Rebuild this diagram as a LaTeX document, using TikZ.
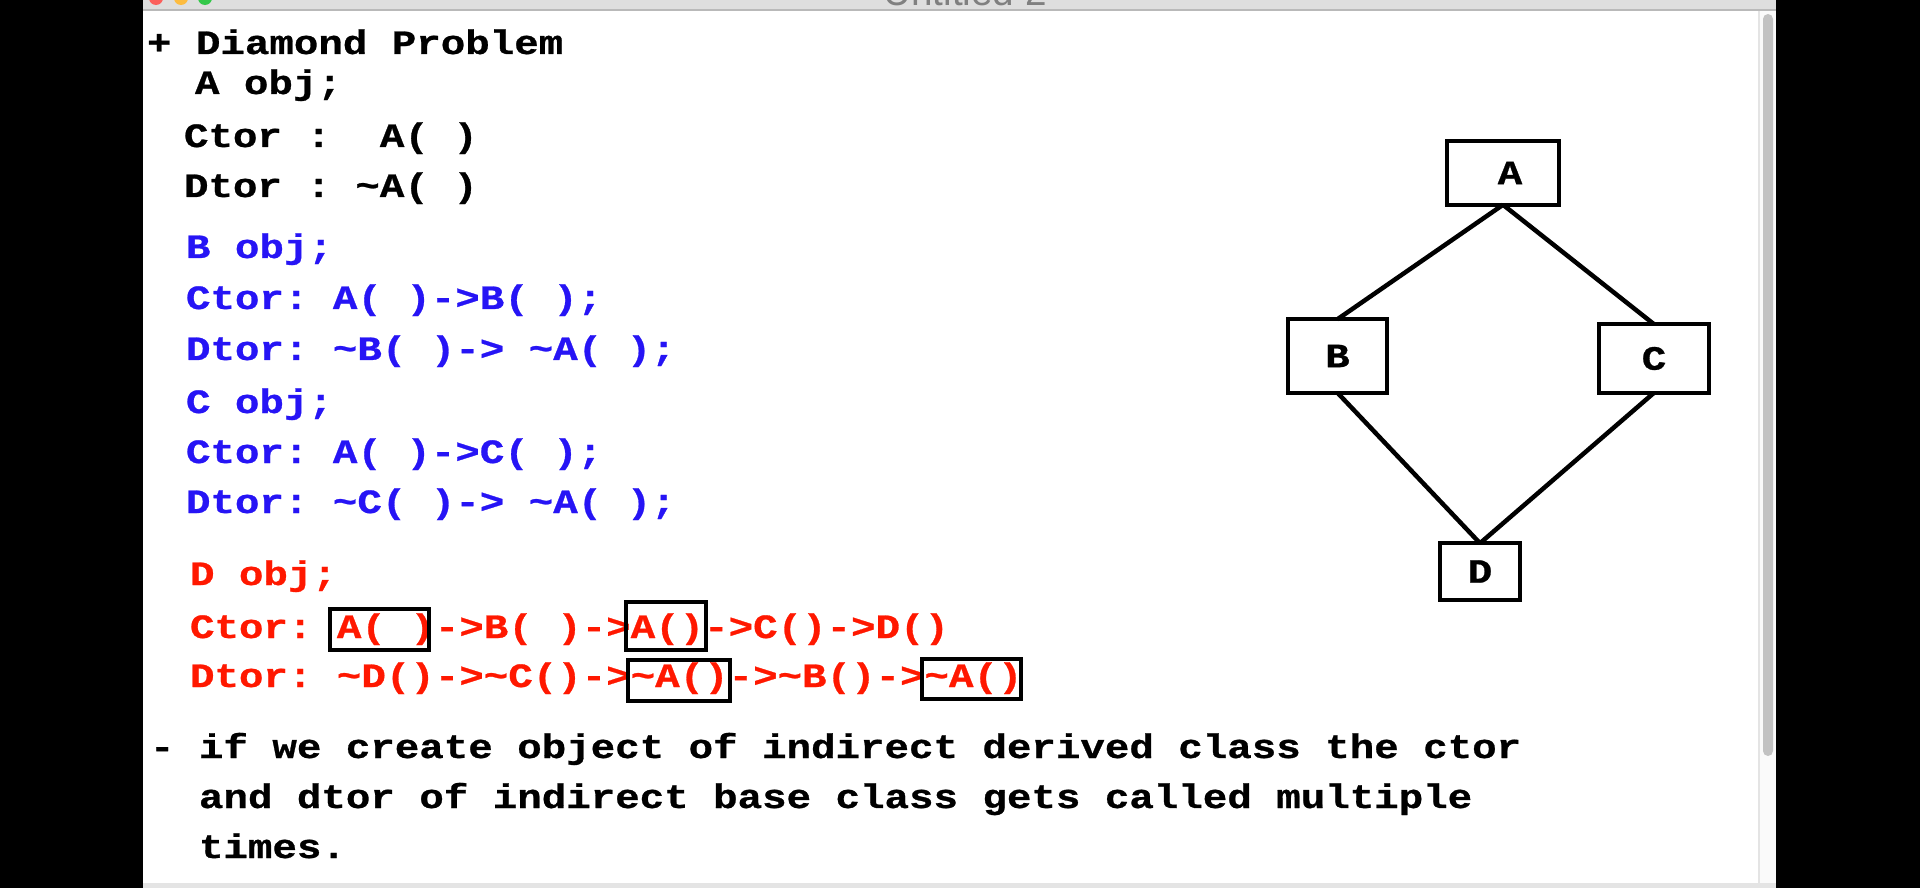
\documentclass[tikz,border=0pt]{standalone}
\usepackage{fontspec}
\newfontfamily\codefam[FakeStretch=1.2,BoldFeatures={FakeBold=0.8}]{Liberation Mono}
\newfontfamily\uisans{Liberation Sans}
\newcommand\codefont{\codefam\bfseries\fontsize{9.67pt}{11pt}\selectfont}
\newcommand\tild{\textasciitilde{}}
\definecolor{cblue}{RGB}{38,20,245}
\definecolor{cred}{RGB}{255,24,0}
\definecolor{barbg}{RGB}{222,222,222}
\definecolor{barline}{RGB}{185,185,185}
\definecolor{thumb}{RGB}{194,194,194}
\definecolor{track}{RGB}{250,250,250}
\definecolor{trackline}{RGB}{228,228,228}
\definecolor{tlred}{RGB}{252,96,92}
\definecolor{tlyellow}{RGB}{253,188,64}
\definecolor{tlgreen}{RGB}{52,200,74}
\begin{document}
\begin{tikzpicture}[x=0.01cm,y=-0.01cm,
  code/.style={anchor=base west,inner sep=0pt,outer sep=0pt,font=\codefont},
  hlbox/.style={draw=black,line width=1.14pt,inner sep=0pt,outer sep=0pt},
  cls/.style={draw=black,line width=1.28pt,inner sep=0pt,outer sep=0pt,font=\codefont},
  conn/.style={draw=black,line width=1.28pt}]
\useasboundingbox (0,0) rectangle (1920,888);
% screen frame
\fill[black] (0,0) rectangle (1920,888);
\fill[white] (143,10) rectangle (1776,888);
\fill[track] (1759,10) rectangle (1776,888);
\draw[trackline,line width=0.4pt] (1759,10) -- (1759,888);
\fill[thumb,rounded corners=0.05cm] (1763,14) rectangle (1773,756);
\fill[trackline] (143,883) rectangle (1776,888);
% title bar
\begin{scope}
\clip (143,0) rectangle (1776,10);
\fill[barbg] (143,0) rectangle (1776,10);
\fill[tlred] (156,-2) circle (0.07cm);
\fill[tlyellow] (181,-2) circle (0.07cm);
\fill[tlgreen] (205,-2) circle (0.07cm);
\node[anchor=base,inner sep=0pt,text=gray,font=\uisans\fontsize{11pt}{12pt}\selectfont] (title) at (965,6) {Untitled 2};
\end{scope}
\draw[barline,line width=0.5pt] (143,10) -- (1776,10);

% A
\node[code] (l1) at (147,54) {+ Diamond Problem};
\node[code] (l2) at (195,94) {A obj;};
\node[code] (l3) at (184,147) {Ctor\ :\ \ A(\ )};
\node[code] (l4) at (184,197) {Dtor\ :\ \tild A(\ )};
% B
\node[code,text=cblue] (b1) at (186,258) {B obj;};
\node[code,text=cblue] (b2) at (186,309) {Ctor:\ A(\ )->B(\ );};
\node[code,text=cblue] (b3) at (186,360) {Dtor:\ \tild B(\ )->\ \tild A(\ );};
% C
\node[code,text=cblue] (c1) at (186,413) {C obj;};
\node[code,text=cblue] (c2) at (186,463) {Ctor:\ A(\ )->C(\ );};
\node[code,text=cblue] (c3) at (186,513) {Dtor:\ \tild C(\ )->\ \tild A(\ );};
% D
\node[code,text=cred] (d1) at (190,585) {D obj;};
\node[code,text=cred] (d2) at (190,638) {Ctor:\ A(\ )->B(\ )->A()->C()->D()};
\node[code,text=cred] (d3) at (190,687) {Dtor:\ \tild D()->\tild C()->\tild A()->\tild B()->\tild A()};
% highlight boxes
\node[hlbox,minimum width=0.99cm,minimum height=0.41cm] (bx1) at (379.5,629.5) {};
\node[hlbox,minimum width=0.80cm,minimum height=0.48cm] (bx2) at (666,626) {};
\node[hlbox,minimum width=1.02cm,minimum height=0.41cm] (bx3) at (679,680.5) {};
\node[hlbox,minimum width=0.99cm,minimum height=0.40cm] (bx4) at (971.5,679) {};
% remark
\node[code] (r1) at (150,758) {- if we create object of indirect derived class the ctor};
\node[code] (r2) at (199,808) {and dtor of indirect base class gets called multiple};
\node[code] (r3) at (199,858) {times.};

% diamond diagram
\node[cls,minimum width=1.115cm,minimum height=0.635cm] (A) at (1503,173) {\hspace*{0.14cm}A};
\node[cls,minimum width=0.985cm,minimum height=0.735cm] (B) at (1337.5,356) {B};
\node[cls,minimum width=1.095cm,minimum height=0.685cm] (C) at (1654,358.5) {C};
\node[cls,minimum width=0.795cm,minimum height=0.565cm] (D) at (1480,571.5) {D};
\draw[conn] (A.south) -- (B.north);
\draw[conn] (A.south) -- (C.north);
\draw[conn] (B.south) -- (D.north);
\draw[conn] (C.south) -- (D.north);
\end{tikzpicture}
\end{document}
